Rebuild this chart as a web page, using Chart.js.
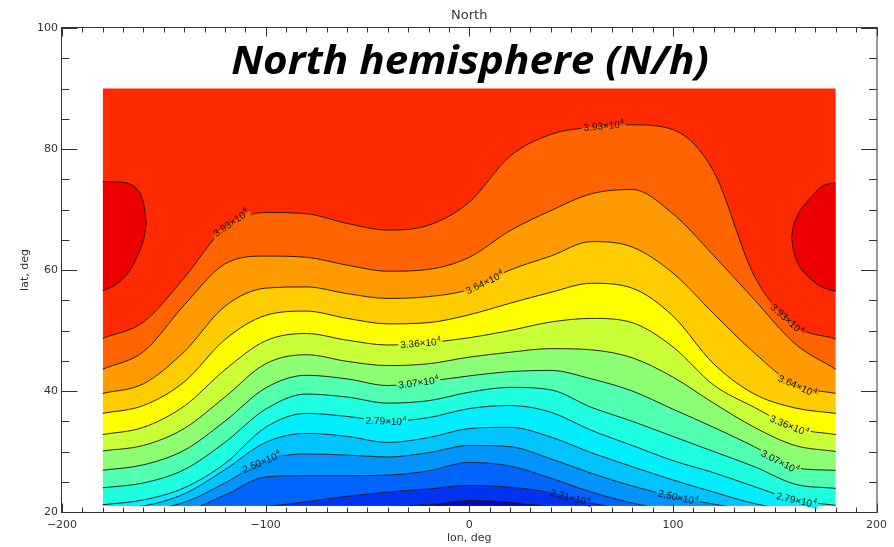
<!DOCTYPE html>
<html>
<head>
<meta charset="utf-8">
<script src="https://cdn.jsdelivr.net/npm/chart.js@4.4.1/dist/chart.umd.min.js"></script>
<style>
  html, body { margin: 0; padding: 0; background: #fff; }
</style>
</head>
<body>
<canvas id="contour" width="894" height="547"></canvas>
<script>
// longitudes (deg) where every contour line is sampled
const lons = [-180, -160, -140, -120, -100, -80, -60, -40, -20, 0, 20, 40, 60, 80, 100, 120, 140, 160, 180];

// contour levels (x10^4), from the top of the map down
const levels = ['3.93', '3.79', '3.64', '3.50', '3.36', '3.21', '3.07', '2.93', '2.79', '2.64', '2.50', '2.36', '2.21', '2.07'];

// map limits; a line value of 20.4 means the contour is below the map there
const topLat = 90;
const bottomLat = 21;
const X = 20.4;

// latitude of each contour at the longitudes above
const lat393 = [48.7, 51.4, 58.7, 67.0, 69.5, 69.3, 67.7, 66.6, 67.4, 71.2, 78.8, 82.4, 83.6, 84.0, 83.2, 76.3, 59.0, 50.8, 48.6];
const lat379 = [43.6, 46.5, 54.2, 61.0, 62.3, 62.1, 60.8, 59.8, 60.1, 62.1, 66.5, 69.8, 72.6, 73.3, 69.3, 62.4, 55.1, 47.8, 43.6];
const lat364 = [39.6, 41.2, 46.5, 54.0, 57.0, 57.2, 56.1, 55.3, 55.6, 56.8, 60.0, 62.3, 64.7, 63.8, 59.5, 52.8, 46.3, 41.0, 39.6];
const lat350 = [36.3, 37.6, 41.5, 48.5, 52.5, 53.2, 52.0, 51.1, 51.3, 52.6, 54.5, 56.3, 57.8, 57.0, 52.4, 44.5, 39.5, 37.2, 36.3];
const lat336 = [32.8, 34.0, 37.5, 43.5, 48.3, 49.5, 48.4, 47.6, 48.0, 48.8, 50.0, 51.4, 52.0, 51.3, 47.3, 41.0, 37.3, 33.9, 32.8];
const lat321 = [30.1, 31.0, 33.8, 39.0, 44.5, 46.0, 44.9, 44.2, 44.5, 45.6, 46.4, 47.0, 46.8, 45.5, 42.3, 38.0, 34.0, 31.0, 30.0];
const lat307 = [26.9, 27.8, 30.2, 35.0, 40.5, 42.6, 42.0, 40.9, 41.6, 42.5, 43.2, 43.4, 42.0, 40.0, 37.0, 34.0, 30.8, 27.3, 26.9];
const lat293 = [24.0, 24.8, 27.0, 31.5, 37.0, 39.5, 39.0, 38.0, 38.4, 39.8, 40.6, 40.2, 37.3, 35.0, 32.5, 30.0, 27.5, 24.6, 23.9];
const lat279 = [21.2, 22.0, 24.0, 28.0, 34.0, 36.3, 35.8, 35.0, 35.6, 37.1, 37.6, 36.5, 33.5, 31.0, 28.5, 26.5, 24.2, 22.0, 21.1];
const lat264 = [X, 21.0, 23.0, 27.0, 31.5, 33.0, 32.5, 31.5, 32.3, 33.8, 34.0, 32.4, 29.8, 27.5, 25.3, 23.3, 21.4, X, X];
const lat250 = [X, X, 21.6, 24.8, 28.5, 29.6, 29.4, 29.1, 29.8, 31.0, 30.8, 28.8, 26.4, 24.3, 22.6, 21.3, X, X, X];
const lat236 = [X, X, X, 22.8, 25.8, 26.0, 26.0, 26.1, 26.8, 28.2, 27.6, 25.6, 23.3, 21.5, X, X, X, X, X];
const lat221 = [X, X, X, X, 20.9, 21.7, 22.6, 23.3, 23.8, 24.4, 24.1, 23.2, 21.5, X, X, X, X, X, X];
const lat207 = [X, X, X, X, X, X, X, 20.9, 21.2, 21.9, 21.6, 20.9, X, X, X, X, X, X, X];
const contourLats = [lat393, lat379, lat364, lat350, lat336, lat321, lat307, lat293, lat279, lat264, lat250, lat236, lat221, lat207];

// closed 4.07 contours touching the left and right edges
const leftCapLon = [-180, -175, -170, -166, -163, -161, -159.5, -158.6];
const leftCapTop = [74.6, 74.6, 74.5, 74.1, 73.3, 72.2, 70.3, 67.8];
const leftCapBottom = [56.6, 57.3, 58.6, 60.3, 62.3, 63.9, 65.7, 67.8];
const rightCapLon = [158.3, 159.2, 160.5, 162.5, 165, 168, 172, 176, 180];
const rightCapTop = [65.4, 67.3, 68.5, 69.8, 70.9, 72.1, 73.5, 74.2, 74.4];
const rightCapBottom = [65.4, 63.2, 61.8, 60.4, 59.4, 58.4, 57.4, 56.8, 56.5];

// inline contour labels: which level and at what longitude
const labelLevel = ['3.93', '3.93', '3.93', '3.64', '3.64', '3.36', '3.36', '3.07', '3.07', '2.79', '2.79', '2.50', '2.50', '2.21'];
const labelLon = [-117, 66, 156, 7.5, 161, -24, 157, -25, 152.5, -41, 160.5, -102, 102.5, 49.5];

const xTicks = [-200, -100, 0, 100, 200];
const yTicks = [20, 40, 60, 80, 100];

// colour of the band just above each contour, plus the band under the lowest one
const bandColors = ['#ff2a00', '#ff6400', '#ff9b00', '#ffcc00', '#ffff00', '#c8ff37', '#8cff73', '#50ffaf',
  '#1effe1', '#00eeff', '#00c4ff', '#0094ff', '#0064ff', '#0032f2', '#0008c0'];
const capColor = '#ee0000';
const lineColor = 'rgba(15,15,15,0.9)';
const axisColor = '#333';

const toPoints = (xs, ys) => xs.map((x, i) => ({ x: x, y: ys[i] }));

const datasets = [];
datasets.push({
  label: 'top', data: toPoints(lons, lons.map(() => topLat)),
  borderColor: 'rgba(0,0,0,0)', fill: false
});
contourLats.forEach((lats, i) => {
  datasets.push({
    label: levels[i], data: toPoints(lons, lats),
    borderColor: lineColor, borderWidth: 1, backgroundColor: bandColors[i], fill: '-1'
  });
});
datasets.push({
  label: 'bottom', data: toPoints(lons, lons.map(() => X)),
  borderColor: 'rgba(0,0,0,0)', backgroundColor: bandColors[bandColors.length - 1], fill: '-1'
});
datasets.push({ label: 'capL1', data: toPoints(leftCapLon, leftCapTop), borderColor: lineColor, borderWidth: 1, fill: false, order: -1 });
datasets.push({ label: 'capL2', data: toPoints(leftCapLon, leftCapBottom), borderColor: lineColor, borderWidth: 1, backgroundColor: capColor, fill: '-1', order: -1 });
datasets.push({ label: 'capR1', data: toPoints(rightCapLon, rightCapTop), borderColor: lineColor, borderWidth: 1, fill: false, order: -1 });
datasets.push({ label: 'capR2', data: toPoints(rightCapLon, rightCapBottom), borderColor: lineColor, borderWidth: 1, backgroundColor: capColor, fill: '-1', order: -1 });

// the map stops at bottomLat: blank out what lies under it
const mapEdge = {
  id: 'mapEdge',
  afterDatasetsDraw(chart) {
    const { ctx, chartArea: a, scales: { y } } = chart;
    const yb = y.getPixelForValue(bottomLat);
    ctx.save();
    ctx.fillStyle = '#fff';
    ctx.fillRect(a.left, yb, a.width, a.bottom - yb + 1);
    ctx.restore();
  }
};

// contour labels drawn along the lines, with a gap cut in the line
const contourLabels = {
  id: 'contourLabels',
  afterDatasetsDraw(chart) {
    const { ctx, chartArea: a, scales: { x } } = chart;
    ctx.save();
    ctx.beginPath();
    ctx.rect(a.left, a.top, a.width, a.height);
    ctx.clip();
    labelLevel.forEach((lev, k) => {
      const li = levels.indexOf(lev);
      const line = chart.getDatasetMeta(li + 1).dataset;
      const px = x.getPixelForValue(labelLon[k]);
      let p = line.interpolate({ x: px }, 'x');
      let p1 = line.interpolate({ x: px - 14 }, 'x');
      let p2 = line.interpolate({ x: px + 14 }, 'x');
      if (Array.isArray(p)) p = p[0];
      if (Array.isArray(p1)) p1 = p1[0];
      if (Array.isArray(p2)) p2 = p2[0];
      if (!p || !p1 || !p2) return;
      const ang = Math.atan2(p2.y - p1.y, p2.x - p1.x);
      const main = lev + '\u00d710';
      ctx.font = '10px "Liberation Sans", Arial, sans-serif';
      const w1 = ctx.measureText(main).width;
      ctx.font = '7px "Liberation Sans", Arial, sans-serif';
      const w2 = ctx.measureText('4').width;
      const w = w1 + w2;
      ctx.save();
      ctx.translate(p.x, p.y);
      ctx.rotate(ang);
      ctx.fillStyle = bandColors[li];
      ctx.fillRect(-w / 2 - 2, -4, w + 4, 4);
      ctx.fillStyle = bandColors[li + 1];
      ctx.fillRect(-w / 2 - 2, 0, w + 4, 4);
      ctx.fillStyle = '#111';
      ctx.textBaseline = 'middle';
      ctx.textAlign = 'left';
      ctx.font = '10px "Liberation Sans", Arial, sans-serif';
      ctx.fillText(main, -w / 2, 0.5);
      ctx.font = '7px "Liberation Sans", Arial, sans-serif';
      ctx.fillText('4', -w / 2 + w1 + 0.5, -3);
      ctx.restore();
    });
    ctx.restore();
  }
};

// IDL style box with inward ticks on all four sides, titles
const frameAndText = {
  id: 'frameAndText',
  beforeDraw(chart) {
    const { ctx, width, height } = chart;
    ctx.save();
    ctx.fillStyle = '#fff';
    ctx.fillRect(0, 0, width, height);
    ctx.restore();
  },
  afterDraw(chart) {
    const { ctx, chartArea: a, scales: { x, y } } = chart;
    const L = a.left - 0.5, R = a.right + 0.5, T = a.top - 0.5, B = a.bottom + 0.5;
    ctx.save();
    ctx.strokeStyle = axisColor;
    ctx.lineWidth = 1;
    ctx.strokeRect(L, T, R - L, B - T);
    ctx.beginPath();
    for (let v = x.min; v <= x.max; v += 10) {
      const px = Math.round(x.getPixelForValue(v)) + 0.5;
      const len = xTicks.includes(v) ? 9 : 5;
      ctx.moveTo(px, B); ctx.lineTo(px, B - len);
      ctx.moveTo(px, T); ctx.lineTo(px, T + len);
    }
    for (let v = y.min; v <= y.max; v += 5) {
      const py = Math.round(y.getPixelForValue(v)) + 0.5;
      const len = yTicks.includes(v) ? 16 : 8;
      ctx.moveTo(L, py); ctx.lineTo(L + len, py);
      ctx.moveTo(R, py); ctx.lineTo(R - len, py);
    }
    ctx.stroke();

    const cx = (a.left + a.right) / 2;
    ctx.fillStyle = '#333';
    ctx.textAlign = 'center';
    ctx.textBaseline = 'middle';
    ctx.font = '13px "DejaVu Sans", sans-serif';
    ctx.fillText('North', cx, 16);
    ctx.font = '11px "DejaVu Sans", sans-serif';
    ctx.fillText('lon, deg', cx, 538);
    ctx.save();
    ctx.translate(25, (a.top + a.bottom) / 2);
    ctx.rotate(-Math.PI / 2);
    ctx.fillText('lat, deg', 0, 0);
    ctx.restore();

    // big overlaid caption
    const caption = 'North hemisphere (N/h)';
    ctx.font = 'italic bold 40px "Open Sans", "Noto Sans", sans-serif';
    ctx.textAlign = 'left';
    ctx.textBaseline = 'alphabetic';
    const m = ctx.measureText(caption);
    const inkW = m.actualBoundingBoxLeft + m.actualBoundingBoxRight;
    const sx = 476 / inkW;
    ctx.save();
    ctx.translate(cx - 237, 74);
    ctx.scale(sx, 1);
    ctx.fillStyle = '#000';
    ctx.fillText(caption, m.actualBoundingBoxLeft, 0);
    ctx.restore();
    ctx.restore();
  }
};

const tickFont = { family: 'DejaVu Sans', size: 11 };
const minus = v => String(v).replace('-', '\u2212');

new Chart(document.getElementById('contour'), {
  type: 'line',
  data: { datasets: datasets },
  options: {
    responsive: false,
    devicePixelRatio: 1,
    animation: false,
    events: [],
    layout: { padding: { top: 28, right: 11, left: 0, bottom: 0 } },
    elements: {
      point: { radius: 0 },
      line: { cubicInterpolationMode: 'monotone', borderWidth: 1 }
    },
    plugins: {
      legend: { display: false },
      tooltip: { enabled: false },
      filler: { propagate: false }
    },
    scales: {
      x: {
        type: 'linear', min: -200, max: 200,
        afterBuildTicks: s => { s.ticks = xTicks.map(v => ({ value: v })); },
        afterFit: s => { s.height = 35; },
        grid: { display: false, drawTicks: false },
        border: { display: false },
        ticks: { padding: 7, color: '#333', font: tickFont, maxRotation: 0, callback: minus }
      },
      y: {
        type: 'linear', min: 20, max: 100,
        afterBuildTicks: s => { s.ticks = yTicks.map(v => ({ value: v })); },
        afterFit: s => { s.width = 62; },
        grid: { display: false, drawTicks: false },
        border: { display: false },
        ticks: { padding: 4, color: '#333', font: tickFont, callback: minus }
      }
    }
  },
  plugins: [frameAndText, mapEdge, contourLabels]
});
</script>
</body>
</html>
